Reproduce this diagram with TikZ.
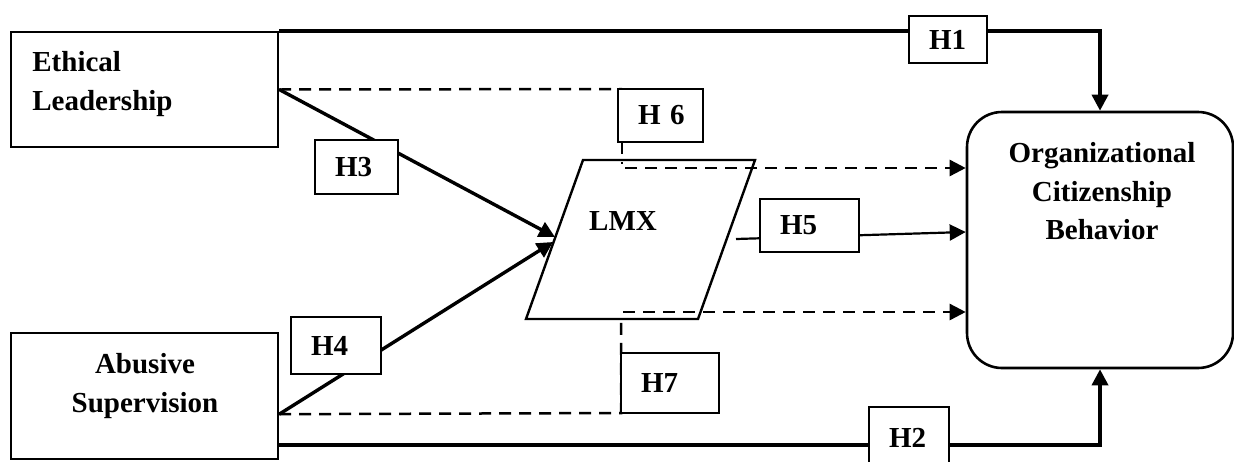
\documentclass[tikz,border=0pt]{standalone}
\usepackage{fontspec}
\setmainfont{Liberation Serif}
\usetikzlibrary{arrows.meta,calc}
\begin{document}
\begin{tikzpicture}[x=0.5pt,y=-0.5pt,
  txt/.style={font=\bfseries\fontsize{14.5pt}{19.3pt}\selectfont, inner sep=0pt},
  varbox/.style={draw, line width=1.2pt, fill=white, inner sep=0pt},
  hbox/.style={draw, line width=0.6pt, fill=white, inner xsep=10pt, inner ysep=0pt,
    align=left, font=\bfseries\fontsize{14.5pt}{17pt}\selectfont},
  tip/.style={-{Triangle[length=8pt,width=8pt]}},
  mainln/.style={line width=1.8pt},
  pathln/.style={line width=1.7pt},
  dashln/.style={line width=1.25pt, dash pattern=on 6pt off 4pt},
]
\useasboundingbox[fill=white] (0,0) rectangle (1234,461);

% constructs
\node[varbox, minimum width=133.5pt, minimum height=57.5pt] (EL) at (144.5,89.5) {};
\node[txt, align=left, anchor=north west] (ELt) at (32,51) {Ethical\\Leadership};
\node[varbox, minimum width=133.5pt, minimum height=63pt] (AS) at (144.5,396) {};
\node[txt, align=center, anchor=north] (ASt) at (145,353) {Abusive\\Supervision};
\node[varbox, line width=1.3pt, rounded corners=17.5pt, minimum width=133pt, minimum height=128pt] (OCB) at (1100,240) {};
\node[txt, align=center, anchor=north] (OCBt) at (1102,142) {Organizational\\Citizenship\\Behavior};

% mediator (parallelogram)
\coordinate (m1) at (583,160);
\coordinate (m2) at (755,160);
\coordinate (m3) at (698,319);
\coordinate (m4) at (526,319);
\draw[line width=1.2pt] (m1) -- (m2) -- (m3) -- (m4) -- cycle;
\node[txt] (LMX) at (623,221) {LMX};

% connection points
\coordinate (lmxIn1) at (555,237);
\coordinate (lmxIn2) at (553,242);
\coordinate (asOut) at ($(AS.south east)+(0,-46)$);
\coordinate (asLow) at ($(AS.south east)+(0,-15)$);
\coordinate (lmxOut) at (736,239);
\coordinate (ocbIn5) at ($(OCB.west)+(0,-8)$);
\coordinate (d6) at (625,168);
\coordinate (d7) at (623,312);

% direct effects
\draw[mainln, tip] (EL.north east) -| (OCB.north);
\draw[mainln, tip] (asLow) -| (OCB.south);

% paths into and out of LMX
\draw[pathln, tip] (EL.east) -- (lmxIn1);
\draw[pathln, tip] (asOut) -- (lmxIn2);
\draw[line width=1.1pt, tip] (lmxOut) -- (ocbIn5);

% mediated paths
\draw[dashln] (EL.east) -- (622,89);
\draw[dashln] (622,142) -- (622,164);
\draw[dashln, tip] (d6) -- (d6 -| OCB.west);
\draw[dashln] (asOut) -- (621,413) -- (621,319);
\draw[dashln, tip] (d7) -- (d7 -| OCB.west);

% hypothesis labels
\node[hbox, text width=19pt, minimum height=23.5pt] (H1) at (948,39.5) {H1};
\node[hbox, text width=22.5pt, minimum height=26.5pt] (H6) at (660.5,115.5) {H~6};
\node[hbox, text width=21.5pt, minimum height=27pt] (H3) at (356.5,167) {H3};
\node[hbox, text width=29.5pt, minimum height=26.5pt] (H5) at (809.5,225.5) {H5};
\node[hbox, text width=25pt, minimum height=28.5pt] (H4) at (336,345.5) {H4};
\node[hbox, text width=29pt, minimum height=30pt] (H7) at (670,383) {H7};
\node[hbox, text width=20pt, minimum height=31pt] (H2) at (909,438) {H2};
\end{tikzpicture}
\end{document}
